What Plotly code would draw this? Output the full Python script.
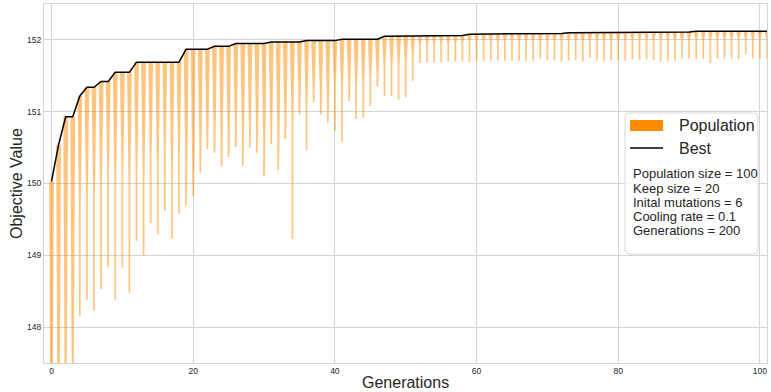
import plotly.graph_objects as go

# ---------------- data ----------------
generations = list(range(0, 102))

best = ([150.03, 150.54, 150.93, 150.93, 151.22, 151.34, 151.34, 151.42, 151.42,
         151.55, 151.55, 151.55]
        + [151.69] * 7 + [151.87] * 4 + [151.91] * 3 + [151.95] * 5
        + [151.97] * 5 + [151.99] * 5 + [152.01] * 6 + [152.05] * 6
        + [152.06] * 6 + [152.08] * 6 + [152.09] * 8 + [152.10] * 8
        + [152.11] * 10 + [152.12] * 11)

worst = [145.50, 146.00, 146.50, 147.00, 148.15, 148.38, 148.23, 148.53, 148.83, 148.38,
         148.83, 148.48, 149.20, 149.00, 149.45, 149.29, 149.62, 149.23, 149.58, 149.69,
         149.83, 150.15, 150.48, 150.43, 150.24, 150.37, 150.51, 150.25, 150.50, 150.43,
         150.10, 150.55, 150.19, 150.62, 149.23, 150.96, 150.46, 151.13, 150.96, 150.85,
         150.73, 150.58, 151.15, 150.90, 150.92, 151.08, 151.35, 151.22, 151.22, 151.17,
         151.20, 151.43, 151.68, 151.69, 151.69, 151.69, 151.70, 151.70, 151.70, 151.69,
         151.71, 151.71, 151.71, 151.72, 151.71, 151.71, 151.71, 151.71, 151.71, 151.74,
         151.72, 151.72, 151.70, 151.71, 151.72, 151.70, 151.76, 151.71, 151.71, 151.72,
         151.72, 151.71, 151.73, 151.72, 151.73, 151.72, 151.70, 151.71, 151.71, 151.74,
         151.74, 151.73, 151.74, 151.68, 151.74, 151.74, 151.74, 151.73, 151.80, 151.74,
         151.74, 151.74]

# lower end of the wide (dense) part of each violin
body = ([145.50, 146.00, 146.50, 147.00, 149.69, 149.86, 149.79, 149.98, 150.13, 149.97,
         150.19, 150.02, 150.20, 150.08, 150.35, 150.25, 150.45, 150.21, 150.42, 150.34,
         150.03, 150.49, 150.55, 150.73, 150.62, 150.68, 150.80, 150.68, 150.79, 150.73,
         150.66, 150.83, 150.72, 150.89, 150.87, 151.16, 151.07, 151.30, 151.27, 151.19,
         151.36, 151.30, 151.41, 151.34, 151.36, 151.45, 151.55, 151.64, 151.64, 151.65,
         151.67, 151.80, 151.94]
        + [151.95] * 6 + [151.97] * 6 + [151.98] * 8 + [151.99] * 8
        + [152.00] * 10 + [152.01] * 11)

x_ticks = [0, 20, 40, 60, 80, 100]
y_ticks = [148, 149, 150, 151, 152]

info_lines = ["Population size = 100", "Keep size = 20", "Inital mutations = 6",
              "Cooling rate = 0.1", "Generations = 200"]

# ---------------- style ----------------
FONT = "Liberation Sans, Arial, sans-serif"
TXT = "#262626"
GRID = "#d4d4d4"
ORANGE = "#ff8c00"
FILL = "rgba(255,140,0,0.5)"
W_TOP = 0.34
W_THIN = 0.12

fig = go.Figure()

for g, b, lo, bd in zip(generations, best, worst, body):
    xs = [g + W_TOP, g + W_THIN, g + W_THIN, g - W_THIN, g - W_THIN, g - W_TOP, g + W_TOP]
    ys = [b, bd, lo, lo, bd, b, b]
    fig.add_trace(go.Scatter(x=xs, y=ys, mode="lines", fill="toself",
                             fillcolor=FILL, line=dict(width=0),
                             hoverinfo="skip", showlegend=False))

fig.add_trace(go.Scatter(x=generations, y=best, mode="lines",
                         line=dict(color="black", width=1.5), showlegend=False))

# plot area in pixels
L, R, T, B = 43.5, 767.0, 4.0, 363.0
PW, PH = R - L, B - T


def px(x):
    return (x - L) / PW


def py(y):
    return (B - y) / PH


# legend box (rounded)
x0, x1, y0, y1 = px(625), px(758), py(254), py(113)
rx, ry = 4 / PW, 4 / PH
path = (f"M {x0+rx},{y0} L {x1-rx},{y0} Q {x1},{y0} {x1},{y0+ry} "
        f"L {x1},{y1-ry} Q {x1},{y1} {x1-rx},{y1} L {x0+rx},{y1} "
        f"Q {x0},{y1} {x0},{y1-ry} L {x0},{y0+ry} Q {x0},{y0} {x0+rx},{y0} Z")
shapes = [
    dict(type="path", xref="paper", yref="paper", path=path,
         fillcolor="rgba(255,255,255,0.85)", line=dict(color="#d9d9d9", width=1)),
    dict(type="rect", xref="paper", yref="paper", x0=px(630), x1=px(663),
         y0=py(131), y1=py(120), fillcolor=ORANGE, line=dict(width=0)),
    dict(type="line", xref="paper", yref="paper", x0=px(630), x1=px(663),
         y0=py(148), y1=py(148), line=dict(color="black", width=1.5)),
]

annotations = [
    dict(text="Population", x=px(677), y=py(125), xref="paper", yref="paper",
         xanchor="left", yanchor="middle", showarrow=False,
         font=dict(family=FONT, size=16, color=TXT)),
    dict(text="Best", x=px(677), y=py(148), xref="paper", yref="paper",
         xanchor="left", yanchor="middle", showarrow=False,
         font=dict(family=FONT, size=16, color=TXT)),
    dict(text="Generations", x=px(405), y=py(382.5), xref="paper", yref="paper",
         xanchor="center", yanchor="middle", showarrow=False,
         font=dict(family=FONT, size=16, color=TXT)),
    dict(text="Objective Value", x=px(16), y=py(183.5), xref="paper", yref="paper",
         xanchor="center", yanchor="middle", showarrow=False, textangle=-90,
         font=dict(family=FONT, size=16, color=TXT)),
]
line_y = [174, 188.2, 202.4, 216.6, 230.8]
for t, yy in zip(info_lines, line_y):
    annotations.append(dict(text=t, x=px(631), y=py(yy), xref="paper", yref="paper",
                            xanchor="left", yanchor="middle", showarrow=False,
                            font=dict(family=FONT, size=13, color=TXT)))

fig.update_layout(
    width=771, height=392,
    margin=dict(l=L, r=771 - R, t=T, b=392 - B),
    paper_bgcolor="white", plot_bgcolor="white",
    font=dict(family=FONT, color=TXT),
    shapes=shapes, annotations=annotations,
    showlegend=False,
)
fig.update_xaxes(range=[-1.06, 101.0], tickvals=x_ticks, ticktext=[str(v) for v in x_ticks],
                 showgrid=True, gridcolor=GRID, gridwidth=1, zeroline=False,
                 showline=True, linecolor=GRID, linewidth=1, mirror=True,
                 ticks="", tickfont=dict(family=FONT, size=8.5, color=TXT))
fig.update_yaxes(range=[147.5, 152.5], tickvals=y_ticks, ticktext=[str(v) for v in y_ticks],
                 showgrid=True, gridcolor=GRID, gridwidth=1, zeroline=False,
                 showline=True, linecolor=GRID, linewidth=1, mirror=True,
                 ticks="", tickfont=dict(family=FONT, size=8.5, color=TXT))

fig.write_html("out.html",
               config={"displayModeBar": False},
               post_script="document.body.style.margin='0';document.body.style.padding='0';")
